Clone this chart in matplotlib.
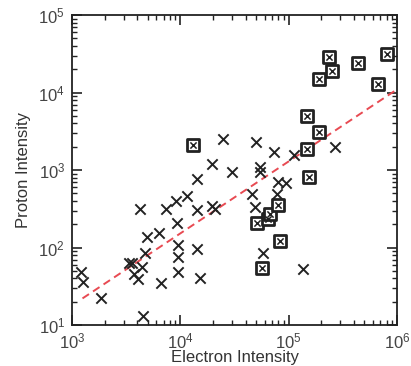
import numpy as np
import matplotlib
matplotlib.use("Agg")
import matplotlib.pyplot as plt
from matplotlib.ticker import LogLocator, NullFormatter

plt.rcParams['font.family'] = ['Liberation Sans', 'DejaVu Sans']

# 普通事件 (x 标记)
cross_electron = [1211, 1265, 1872, 4266, 3324, 3581, 4426, 3758, 4039, 4755,
                  4922, 6393, 7375, 9120, 9312, 9510, 9510, 9510, 6698, 4520,
                  11460, 14350, 14350, 14260, 15210, 19730, 19600, 20890, 24930, 29810,
                  50470, 54340, 53830, 73250, 45620, 48880, 80150, 94420, 78850, 58330,
                  136500, 112000, 265000]
cross_proton = [48.7, 36.2, 22.1, 318, 63.7, 62.2, 55.6, 45.5, 39.2, 85.7,
                134.6, 152.5, 311, 398, 209, 107.7, 74.8, 48.7, 35.1, 12.9,
                462, 759, 309, 97, 40.7, 1195, 343, 311, 2489, 951,
                2317, 1103, 951, 1682, 490, 330, 690, 670, 494, 84.9,
                52.3, 1563, 1999]

# 方框事件
box_electron = [13180, 50690, 64900, 67270, 79740, 82300, 56400, 155600, 146800,
                190700, 147700, 191700, 235600, 252800, 439300, 671900, 803400]
box_proton = [2102, 205, 233, 267, 357, 121, 54.4, 820, 1855,
              3120, 4974, 14800, 28970, 18940, 23820, 12880, 31400]

# 拟合直线 log10(P) = slope * log10(E) + intercept
fit_slope = 0.929
fit_intercept = -1.534
fit_range = [1250, 1e6]

fig = plt.figure(figsize=(4.11, 3.66), dpi=100)
ax = fig.add_axes([72 / 411, 41 / 366, 325 / 411, 310 / 366])

ax.scatter(cross_electron, cross_proton, marker='x', s=55, color='#222222',
           linewidths=1.4, zorder=3)
ax.scatter(box_electron, box_proton, marker='s', s=68, facecolor='white',
           edgecolor='#222222', linewidths=2.0, zorder=3)
ax.scatter(box_electron, box_proton, marker='x', s=20, color='#222222',
           linewidths=1.1, zorder=4)

xf = np.logspace(np.log10(fit_range[0]), np.log10(fit_range[1]), 50)
yf = 10 ** (fit_slope * np.log10(xf) + fit_intercept)
ax.plot(xf, yf, color='#e84a52', lw=1.4, dashes=[4, 2.5], zorder=2)

ax.set_xscale('log')
ax.set_yscale('log')
ax.set_xlim(1e3, 1e6)
ax.set_ylim(10, 1e5)

for sp in ax.spines.values():
    sp.set_linewidth(1.3)
    sp.set_color('#222222')

ax.xaxis.set_major_locator(LogLocator(base=10, numticks=10))
ax.yaxis.set_major_locator(LogLocator(base=10, numticks=10))
ax.xaxis.set_minor_locator(LogLocator(base=10, subs=np.arange(2, 10), numticks=10))
ax.yaxis.set_minor_locator(LogLocator(base=10, subs=np.arange(2, 10), numticks=10))
ax.xaxis.set_minor_formatter(NullFormatter())
ax.yaxis.set_minor_formatter(NullFormatter())
ax.tick_params(which='both', direction='in', top=True, right=True, color='#222222')
ax.tick_params(which='major', length=7, width=1.2, labelsize=12, labelcolor='#444444', pad=5)
ax.tick_params(which='minor', length=3.5, width=1.0)

ax.set_xlabel('Electron Intensity', fontsize=12, color='#333333', labelpad=-1)
ax.set_ylabel('Proton Intensity', fontsize=12, color='#333333', labelpad=5)

fig.savefig('out.png', dpi=100)
